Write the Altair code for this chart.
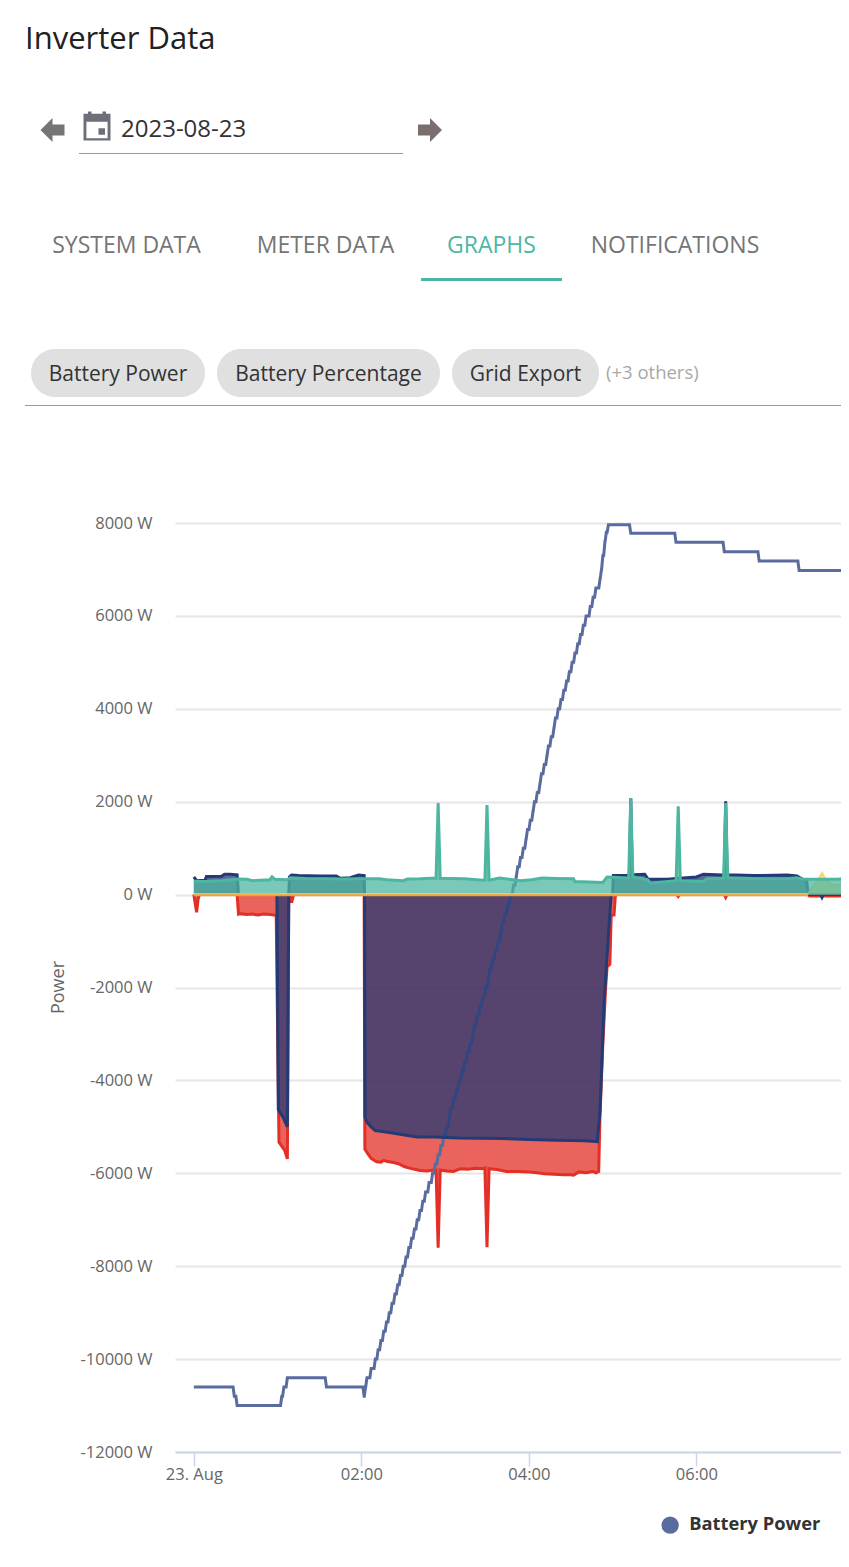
import altair as alt
import pandas as pd

BASE_MS = 1692748800000  # 2023-08-23T00:00Z
MIN_MS = 60000
END = 469.4
VIEW_END = 463.6

# ---- series, minutes after midnight / watts ----
line_min = [0, 29, 31, 63, 64.5, 67, 95, 122, 123, 124, 127, 130, 132, 134, 136, 138, 140, 142, 144, 146, 148, 150, 152,
            154, 156, 158, 160, 162, 164, 166, 168.5, 171, 173, 175, 177, 179, 181, 183, 184, 186, 188, 190, 192, 194,
            196, 198, 200, 201, 203, 205, 207, 209, 211, 212, 214, 216, 218, 220, 221, 223, 225, 227, 229, 231, 232,
            234, 236, 238, 239, 241, 243, 244, 246, 248, 249, 251, 253, 254, 256, 258, 259, 261, 263, 265, 267, 269,
            271, 273, 275, 277, 279, 281, 284, 286, 288, 291, 292, 293, 294.5, 295.5, 297, 313, 345.4, 380, 405, 433.6, END]
line_w = [-10600, -10800, -11000, -10800, -10600, -10400, -10600, -10800, -10600, -10400, -10200, -10000, -9800, -9600,
          -9400, -9200, -9000, -8800, -8600, -8400, -8200, -8000, -7800, -7600, -7400, -7200, -7000, -6800, -6600, -6400,
          -6200, -6000, -5800, -5600, -5400, -5200, -5000, -4800, -4600, -4400, -4200, -4000, -3800, -3600, -3400, -3200,
          -3000, -2800, -2600, -2400, -2200, -2000, -1800, -1600, -1400, -1200, -1000, -800, -600, -400, -200, 0, 200,
          400, 600, 800, 1000, 1200, 1400, 1600, 1800, 2000, 2200, 2400, 2600, 2800, 3000, 3200, 3400, 3600, 3800, 4000,
          4200, 4400, 4600, 4800, 5000, 5200, 5400, 5600, 5800, 6000, 6200, 6400, 6600, 6800, 7000, 7300, 7600, 7800,
          7960, 7780, 7585, 7380, 7180, 6980, 6980]

red_min = [0, 1, 2, 3, 4, 31, 32, 33, 38, 42, 46, 50, 55, 59, 61, 65, 67, 68, 69, 70, 71.5, 122, 122.5, 124, 127, 131, 134,
           136, 138, 142, 147, 151, 156, 162, 167, 172, 173.5, 175, 176.5, 181, 186, 191, 196, 202, 208, 208.5, 210, 211.5,
           217, 224, 232, 240, 246, 251, 258, 265, 270, 272, 276, 281, 286, 288, 290, 291, 293, 295, 296, 298, 299, 301,
           302, 346, 347, 348, 380, 381, 382, 440, 441, END]
red_w = [0, -200, -380, -100, 0, 0, -420, -410, -430, -420, -440, -420, -430, -450, -5330, -5500, -5690, 0, -20, -170, 0, 0,
         -5480, -5550, -5680, -5750, -5760, -5720, -5740, -5760, -5800, -5860, -5900, -5940, -5950, -5930, -5930, -7600,
         -5930, -5950, -5960, -5900, -5910, -5890, -5900, -5890, -7590, -5900, -5920, -5960, -5960, -5970, -5990, -6010,
         -6020, -6030, -6030, -6040, -5970, -5990, -5960, -5990, -5960, -4700, -3200, -2000, -1560, -1500, -440, -440, 0,
         0, -40, 0, 0, -60, 0, 0, -30, -30]

navy_min = [0, 2, 8, 9, 20, 22, 26, 31, 32, 59.5, 60.5, 64, 67, 68, 68.5, 70, 75, 90, 102, 105, 112, 118, 122, 122.3, 122.6,
            124, 127, 130, 135, 140, 150, 160, 172, 190, 220, 240, 260, 280, 289, 291, 294, 297, 299, 300, 300.5, 310,
            312, 313, 314, 315, 323, 325.5, 339, 348, 360, 365, 379, 380, 381, 382, 401, 425, 432, 436, 439, 440, 449,
            450, 451, END]
navy_w = [380, 300, 310, 390, 395, 440, 440, 425, 0, 0, -4630, -4800, -5000, 0, 380, 420, 410, 400, 400, 350, 365, 420, 410,
          0, -4790, -4900, -5000, -5080, -5100, -5120, -5170, -5220, -5220, -5240, -5250, -5270, -5290, -5300, -5320,
          -4650, -2260, -860, 0, 0, 410, 410, 420, 2075, 420, 430, 440, 330, 330, 350, 380, 440, 420, 430, 2010, 430, 410,
          420, 400, 330, 310, 0, 0, -60, 0, 0]

teal_min = [0, 6, 11.5, 20, 31, 38, 42, 48, 54.5, 56, 58, 67, 69, 80, 95, 105, 121, 133, 138, 150, 153, 162, 170, 173.5, 175,
            176.5, 183.5, 194, 207, 208.5, 210, 211.5, 219, 226, 234, 242, 249.5, 260, 272, 273, 283, 293, 296, 311, 311.5, 313,
            314.5, 325, 327, 336, 345.5, 347, 348.5, 356, 365, 367.5, 379, 379.5, 381, 382.5, 400, 425, 432, 436, 450, 461, END]
teal_w = [285, 280, 285, 300, 335, 330, 300, 310, 320, 380, 330, 320, 360, 345, 340, 335, 340, 340, 320, 300, 335, 340, 350,
          350, 1970, 345, 345, 340, 310, 310, 1930, 310, 355, 330, 300, 320, 355, 345, 340, 280, 270, 260, 380, 360, 380,
          2075, 380, 320, 245, 270, 300, 1900, 300, 290, 280, 340, 350, 360, 1970, 360, 345, 340, 360, 330, 330, 330, 345]

yellow_min = [440, 442, 447, 450, 453, 457, 463, END]
yellow_w = [10, 120, 300, 470, 300, 220, 200, 220]

yellow_base_min = [0, 440]
yellow_base_w = [10, 10]
orange_min = [0, 440]
orange_w = [-12, -12]

y_ticks = [8000, 6000, 4000, 2000, 0, -2000, -4000, -6000, -8000, -10000, -12000]
x_tick_minutes = [0, 120, 240, 360, 480]
legend_name = "Battery Power"


def frame(minutes, watts):
    return pd.DataFrame({"t": [BASE_MS + m * MIN_MS for m in minutes], "w": watts})


X = alt.X(
    "t:T",
    scale=alt.Scale(type="utc", domain=[BASE_MS - 13.5 * MIN_MS, BASE_MS + VIEW_END * MIN_MS], nice=False),
    axis=alt.Axis(
        values=[BASE_MS + m * MIN_MS for m in x_tick_minutes],
        labelExpr="utchours(datum.value) == 0 ? '23. Aug' : utcFormat(datum.value, '%H:%M')",
        title=None, grid=False, domainColor="#ccd6eb", domainWidth=2, tickColor="#ccd6eb", tickWidth=1.5, tickSize=14,
        labelColor="#666666", labelFontSize=16.5, labelPadding=0, labelFlush=False, labelOverlap=False, labelBound=False,
        labelFont="Open Sans",
    ),
)
Y = alt.Y(
    "w:Q",
    stack=None,
    scale=alt.Scale(domain=[-12000, 8000], nice=False, zero=False),
    axis=alt.Axis(
        values=y_ticks, labelExpr="datum.value + ' W'", title="Power", grid=True, gridColor="#e6e6e6", gridWidth=2,
        domain=False, ticks=False, labelColor="#666666", labelFontSize=16.5, labelPadding=23, labelFont="Open Sans",
        titleColor="#666666", titleFontSize=18, titleFontWeight="normal", titleFont="Open Sans",
        titleX=-108, titleY=464, titleAlign="center",
    ),
)

FILL_OPACITY = 0.75


def area(minutes, watts, color):
    return alt.Chart(frame(minutes, watts)).mark_area(color=color, opacity=FILL_OPACITY).encode(x=X, y=Y)


def stroke(minutes, watts, color, width=3):
    return alt.Chart(frame(minutes, watts)).mark_line(color=color, strokeWidth=width).encode(x=X, y=Y)


RED, NAVY, TEAL, YELLOW, ORANGE, BLUE = "#e32f26", "#243a75", "#4db6a0", "#f5d76e", "#f0a040", "#5a6b9e"

# each level holds until just before the next one, which gives the slanted risers of the original line
stair_min, stair_w = [], []
for i, (m, w) in enumerate(zip(line_min, line_w)):
    stair_min.append(m)
    stair_w.append(w)
    if i + 1 < len(line_min):
        stair_min.append(max(m, line_min[i + 1] - 0.9))
        stair_w.append(w)

blue_df = frame(stair_min, stair_w).assign(series=legend_name)
blue = alt.Chart(blue_df).mark_line(strokeWidth=3).encode(
    x=X, y=Y,
    color=alt.Color(
        "series:N",
        scale=alt.Scale(domain=[legend_name], range=[BLUE]),
        legend=alt.Legend(
            title=None, orient="none", legendX=486, legendY=993, symbolType="circle", symbolSize=300,
            symbolFillColor=BLUE, symbolStrokeColor=BLUE, symbolStrokeWidth=0, labelFont="Open Sans", labelFontSize=18.3,
            labelFontWeight="bold", labelColor="#333333", labelOffset=10,
        ),
    ),
)

# ---- page furniture, placed relative to the plot origin (175, 523) ----
OX, OY = 175, 523
ONE = alt.Data(values=[{"a": 1}])
FONT = "Open Sans"


def label(text, page_x, page_y, size, color, align="left", weight="normal"):
    return alt.Chart(ONE).mark_text(text=text, font=FONT, fontSize=size, color=color, align=align, baseline="alphabetic",
                                    fontWeight=weight).encode(x=alt.value(page_x - OX), y=alt.value(page_y - OY))


def bar(x1, x2, y1, y2, color, radius=0):
    return alt.Chart(ONE).mark_rect(color=color, cornerRadius=radius).encode(
        x=alt.value(x1 - OX), x2=alt.value(x2 - OX), y=alt.value(y1 - OY), y2=alt.value(y2 - OY))


def glyph(path, page_x, page_y, size, color):
    return alt.Chart(ONE).mark_point(shape=path, filled=True, size=size, color=color, opacity=1, strokeWidth=0).encode(
        x=alt.value(page_x - OX), y=alt.value(page_y - OY))


LEFT_ARROW = "M-1 0L0 -1L0 -0.45L1 -0.45L1 0.45L0 0.45L0 1Z"
RIGHT_ARROW = "M1 0L0 1L0 0.45L-1 0.45L-1 -0.45L0 -0.45L0 -1Z"
CALENDAR = ("M-0.93 -0.85L-0.62 -0.85L-0.62 -1L-0.38 -1L-0.38 -0.85L0.38 -0.85L0.38 -1L0.62 -1L0.62 -0.85L0.93 -0.85"
            "L0.93 1L-0.93 1Z"
            "M-0.73 -0.3L-0.73 0.85L0.73 0.85L0.73 -0.3Z"
            "M0.1 0.15L0.55 0.15L0.55 0.6L0.1 0.6Z")

chrome = [
    label("Inverter Data", 25, 49, 31, "#212121"),
    glyph(LEFT_ARROW, 52.5, 130, 576, "#757575"),
    glyph(CALENDAR, 97, 126, 841, "#6b7078"),
    label("2023-08-23", 121, 137, 24, "#333333"),
    bar(79, 403, 153, 154, "#999999"),
    glyph(RIGHT_ARROW, 430, 130, 576, "#7a6e6e"),
    label("SYSTEM DATA", 126.5, 253, 23, "#757575", "center"),
    label("METER DATA", 325.5, 253, 23, "#757575", "center"),
    label("GRAPHS", 491.5, 253, 23, "#4db6a4", "center"),
    label("NOTIFICATIONS", 675, 253, 23, "#757575", "center"),
    bar(421, 562, 278, 281, "#4db6a4"),
    bar(31, 205, 349, 397, "#e0e0e0", 24),
    bar(217, 440, 349, 397, "#e0e0e0", 24),
    bar(452, 599, 349, 397, "#e0e0e0", 24),
    label("Battery Power", 118, 381, 21, "#333333", "center"),
    label("Battery Percentage", 328.5, 381, 21, "#333333", "center"),
    label("Grid Export", 525.5, 381, 21, "#333333", "center"),
    label("(+3 others)", 606, 379, 18.5, "#a8a8a8"),
    bar(25, 849, 405, 406, "#999999"),
]

chart = alt.layer(
    area(red_min, red_w, RED),
    stroke(red_min, red_w, RED),
    blue,
    area(navy_min, navy_w, NAVY),
    stroke(navy_min, navy_w, NAVY),
    area(yellow_min, yellow_w, YELLOW),
    stroke(yellow_min, yellow_w, YELLOW, 2),
    area(teal_min, teal_w, TEAL),
    stroke(teal_min, teal_w, TEAL, 3),
    stroke(yellow_base_min, yellow_base_w, YELLOW, 2),
    stroke(orange_min, orange_w, ORANGE, 2),
    *chrome,
).properties(
    width=666,
    height=929,
    padding={"left": 167, "top": 515, "right": 0, "bottom": 107},
    autosize=alt.AutoSizeParams(type="none"),
    background="white",
).configure_view(stroke=None)

chart.save("out.html", embed_options={"renderer": "svg", "actions": False})
